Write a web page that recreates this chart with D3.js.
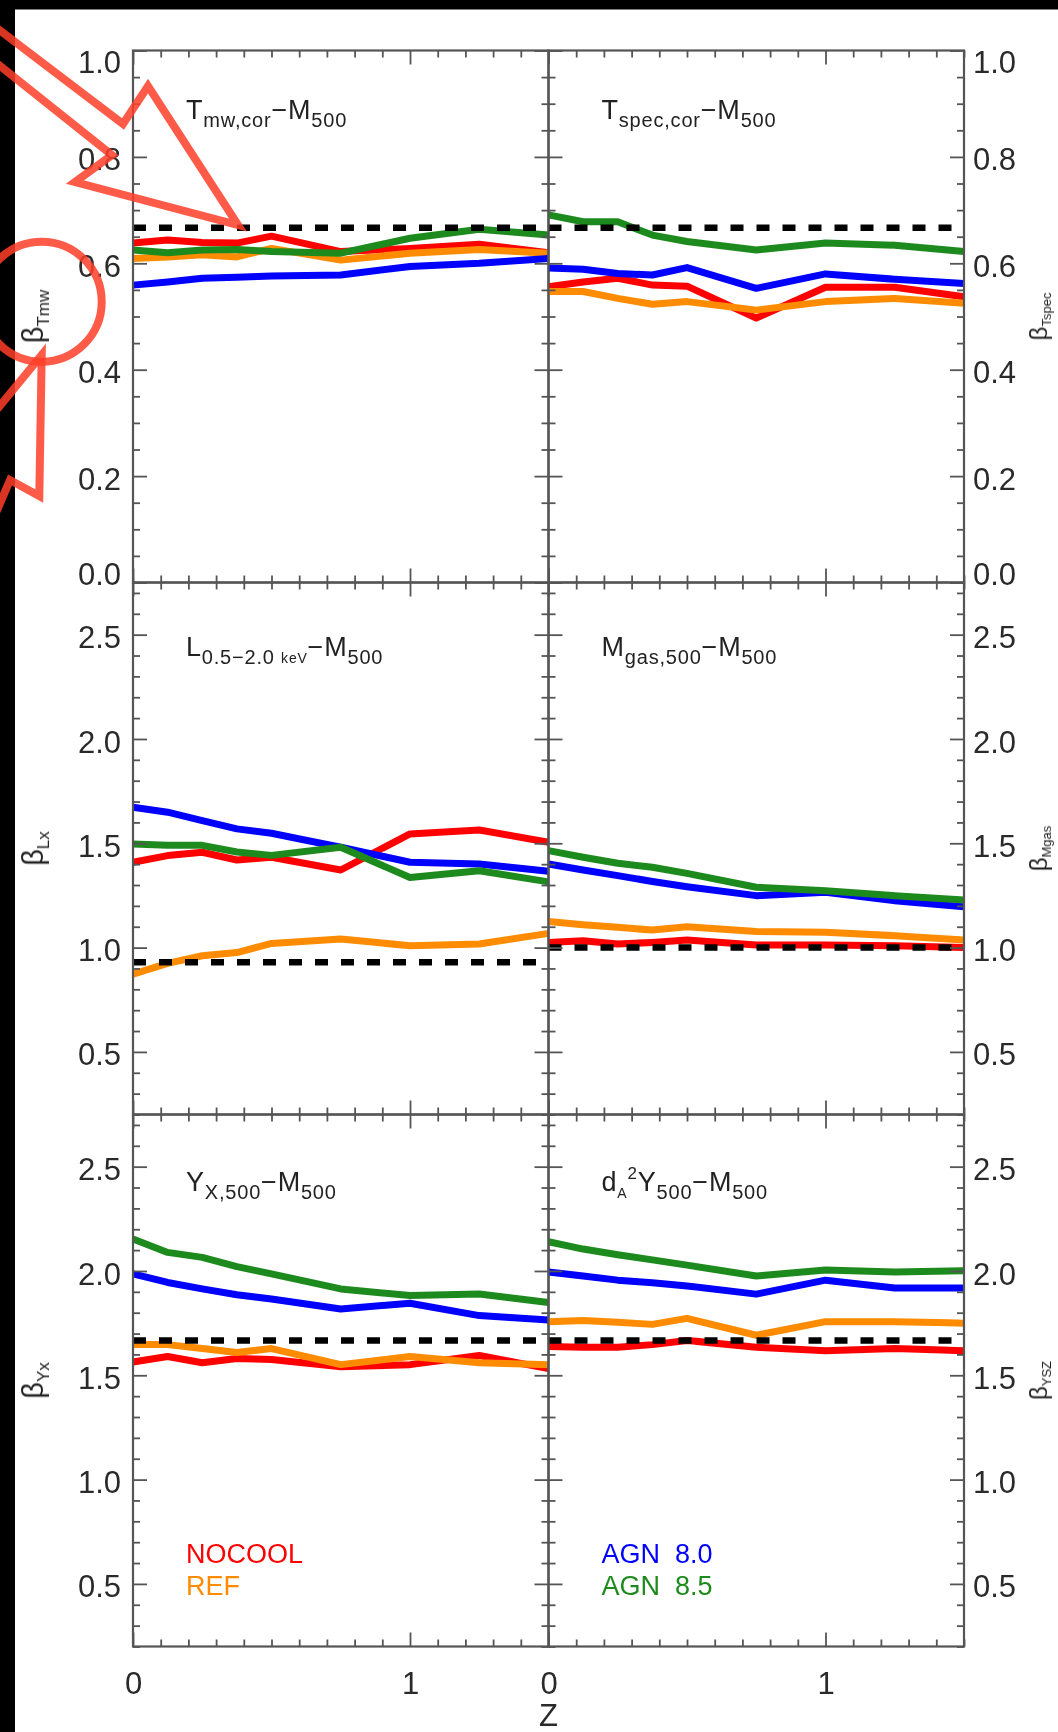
<!DOCTYPE html>
<html><head><meta charset="utf-8">
<script src="https://cdn.jsdelivr.net/npm/d3@7"></script>
<style>
html,body{margin:0;padding:0;background:#fff;}
svg{display:block;}
text{font-family:"Liberation Sans",Arial,Helvetica,sans-serif;}
</style></head><body>
<svg id="chart" width="1058" height="1732"></svg>
<script>
// ---------------- DATA ----------------
const redshift = [0, 0.125, 0.25, 0.375, 0.5, 0.75, 1.0, 1.25, 1.5];
const modelNames = ["NOCOOL", "REF", "AGN  8.0", "AGN  8.5"];
const modelColors = ["#ff0000", "#ff8c00", "#0000ff", "#1f8a1f"];

// T_mw,cor - M500
const tmwNocool = [0.638, 0.644, 0.639, 0.638, 0.651, 0.622, 0.628, 0.636, 0.620];
const tmwRef    = [0.609, 0.612, 0.616, 0.612, 0.628, 0.606, 0.619, 0.626, 0.619];
const tmwAgn80  = [0.559, 0.565, 0.572, 0.574, 0.576, 0.578, 0.594, 0.600, 0.609];
const tmwAgn85  = [0.625, 0.620, 0.625, 0.626, 0.622, 0.619, 0.647, 0.664, 0.653];
// T_spec,cor - M500
const tspNocool = [0.556, 0.565, 0.572, 0.559, 0.557, 0.497, 0.555, 0.555, 0.537];
const tspRef    = [0.547, 0.547, 0.534, 0.523, 0.528, 0.512, 0.528, 0.534, 0.525];
const tspAgn80  = [0.591, 0.589, 0.581, 0.578, 0.592, 0.553, 0.580, 0.570, 0.562];
const tspAgn85  = [0.691, 0.678, 0.678, 0.653, 0.641, 0.625, 0.638, 0.634, 0.622];
// L_0.5-2.0keV - M500
const lxNocool  = [1.409, 1.441, 1.457, 1.420, 1.433, 1.372, 1.545, 1.564, 1.505];
const lxRef     = [0.873, 0.924, 0.961, 0.976, 1.020, 1.041, 1.009, 1.017, 1.068];
const lxAgn80   = [1.673, 1.649, 1.609, 1.569, 1.548, 1.481, 1.409, 1.401, 1.366];
const lxAgn85   = [1.496, 1.490, 1.490, 1.458, 1.442, 1.481, 1.336, 1.368, 1.315];
// M_gas,500 - M500
const mgNocool  = [1.025, 1.033, 1.017, 1.025, 1.036, 1.013, 1.013, 1.009, 1.000];
const mgRef     = [1.125, 1.110, 1.097, 1.084, 1.100, 1.077, 1.073, 1.057, 1.036];
const mgAgn80   = [1.401, 1.372, 1.345, 1.317, 1.292, 1.249, 1.265, 1.225, 1.196];
const mgAgn85   = [1.465, 1.433, 1.404, 1.385, 1.356, 1.289, 1.273, 1.249, 1.228];
// Y_X,500 - M500
const yxNocool  = [1.564, 1.590, 1.560, 1.580, 1.576, 1.541, 1.551, 1.595, 1.532];
const yxRef     = [1.647, 1.647, 1.628, 1.609, 1.628, 1.551, 1.590, 1.560, 1.551];
const yxAgn80   = [1.986, 1.945, 1.914, 1.886, 1.866, 1.818, 1.845, 1.786, 1.765];
const yxAgn85   = [2.153, 2.089, 2.065, 2.021, 1.986, 1.914, 1.882, 1.890, 1.849];
// d_A^2 Y_500 - M500
const ysNocool  = [1.638, 1.634, 1.634, 1.647, 1.667, 1.634, 1.618, 1.628, 1.618];
const ysRef     = [1.757, 1.763, 1.754, 1.744, 1.773, 1.692, 1.757, 1.757, 1.750];
const ysAgn80   = [1.995, 1.976, 1.956, 1.943, 1.928, 1.889, 1.956, 1.918, 1.918];
const ysAgn85   = [2.140, 2.105, 2.078, 2.053, 2.028, 1.976, 2.005, 1.995, 2.001];

// self-similar expectations (dashed lines)
const selfSimilar = [0.667, 0.667, 0.93, 1.0, 1.667, 1.667];

// tick labels
const xTickValues = [0, 1];
const yTicksTemp = [0.0, 0.2, 0.4, 0.6, 0.8, 1.0];
const yTicksOther = [0.5, 1.0, 1.5, 2.0, 2.5];
const yDomainTemp = [0, 1];
const yDomainOther = [0.2, 2.75];
const xDomain = [0, 1.5];

const leftLabels = ["β|Tmw", "β|Lx", "β|Yx"];
const rightLabels = ["β|Tspec", "β|Mgas", "β|YSZ"];

// title segments: [text, mode] mode: n=normal, s=sub, k=small sub, p=sup
const titles = [
  [["T","n"],["mw,cor","s"],["−M","n"],["500","s"]],
  [["T","n"],["spec,cor","s"],["−M","n"],["500","s"]],
  [["L","n"],["0.5−2.0 ","s"],["keV","k"],["−M","n"],["500","s"]],
  [["M","n"],["gas,500","s"],["−M","n"],["500","s"]],
  [["Y","n"],["X,500","s"],["−M","n"],["500","s"]],
  [["d","n"],["A","k"],["2","p"],["Y","n"],["500","s"],["−M","n"],["500","s"]]
];

const panelSeries = [
  [tmwNocool, tmwRef, tmwAgn80, tmwAgn85],
  [tspNocool, tspRef, tspAgn80, tspAgn85],
  [lxNocool, lxRef, lxAgn80, lxAgn85],
  [mgNocool, mgRef, mgAgn80, mgAgn85],
  [yxNocool, yxRef, yxAgn80, yxAgn85],
  [ysNocool, ysRef, ysAgn80, ysAgn85]
];

// ---------------- LAYOUT ----------------
const W = 1058, H = 1732;
const plotLeft = 133, colW = 415.5, plotTop = 50.5, rowH = 532;
const titleOffset = [68, 73, 76];
const axisColor = "#555";
const textColor = "#2b2b2b";

const svg = d3.select("#chart");
const defs = svg.append("defs");
defs.append("filter").attr("id", "soft").attr("x", "-5%").attr("y", "-5%").attr("width", "110%").attr("height", "110%")
  .append("feGaussianBlur").attr("stdDeviation", 0.55);

svg.append("rect").attr("width", W).attr("height", H).attr("fill", "#fff");

// black scan borders
svg.append("rect").attr("x", 0).attr("y", 0).attr("width", W).attr("height", 9.5).attr("fill", "#000");
svg.append("rect").attr("x", 0).attr("y", 0).attr("width", 15).attr("height", H).attr("fill", "#000");

const root = svg.append("g").attr("filter", "url(#soft)");
const drawOrder = [0, 1, 2, 3];

function styleAxis(g) {
  g.select(".domain").remove();
  g.selectAll(".tick line").attr("stroke", axisColor).attr("stroke-width", 1.8);
  g.selectAll("text").attr("font-size", 31).attr("fill", textColor)
    .attr("font-family", '"Liberation Sans",Arial,sans-serif');
}

for (let p = 0; p < 6; p++) {
  const row = Math.floor(p / 2), col = p % 2;
  const left = plotLeft + col * colW, top = plotTop + row * rowH;
  const x = d3.scaleLinear().domain(xDomain).range([left, left + colW]);
  const yDom = row === 0 ? yDomainTemp : yDomainOther;
  const y = d3.scaleLinear().domain(yDom).range([top + rowH, top]);
  const majors = row === 0 ? yTicksTemp : yTicksOther;
  const minorStep = row === 0 ? 0.05 : 0.1;
  const yMinors = d3.range(Math.ceil(yDom[0] / minorStep - 1e-6), Math.floor(yDom[1] / minorStep + 1e-6) + 1)
    .map(k => +(k * minorStep).toFixed(3))
    .filter(v => !majors.some(m => Math.abs(m - v) < 1e-6));
  const xMinors = d3.range(0, 16).map(k => +(k * 0.1).toFixed(2)).filter(v => !xTickValues.includes(v));

  const g = root.append("g");

  // data lines
  const line = d3.line().x((d, i) => x(redshift[i])).y(d => y(d));
  drawOrder.forEach(si => {
    g.append("path").datum(panelSeries[p][si])
      .attr("d", line).attr("fill", "none")
      .attr("stroke", modelColors[si]).attr("stroke-width", 7)
      .attr("stroke-linejoin", "round");
  });
  // self-similar dashed line
  g.append("path").datum(xDomain)
    .attr("d", d3.line().x(d => x(d)).y(() => y(selfSimilar[p])))
    .attr("stroke", "#000").attr("stroke-width", 6.5)
    .attr("stroke-dasharray", "13,13").attr("fill", "none");

  // frame
  g.append("rect").attr("x", left).attr("y", top).attr("width", colW).attr("height", rowH)
    .attr("fill", "none").attr("stroke", axisColor).attr("stroke-width", 2.2);

  const fmtY = d3.format(".1f");
  // left axis
  const gl = g.append("g").attr("transform", `translate(${left},0)`)
    .call(d3.axisLeft(y).tickValues(majors).tickSizeInner(-14).tickSizeOuter(0).tickPadding(12)
      .tickFormat(col === 0 ? fmtY : () => ""));
  styleAxis(gl);
  g.append("g").attr("transform", `translate(${left},0)`)
    .call(d3.axisLeft(y).tickValues(yMinors).tickSizeInner(-7).tickSizeOuter(0).tickFormat(() => ""))
    .call(styleAxis);
  // right axis
  const gr = g.append("g").attr("transform", `translate(${left + colW},0)`)
    .call(d3.axisRight(y).tickValues(majors).tickSizeInner(-14).tickSizeOuter(0).tickPadding(9)
      .tickFormat(col === 1 ? fmtY : () => ""));
  styleAxis(gr);
  g.append("g").attr("transform", `translate(${left + colW},0)`)
    .call(d3.axisRight(y).tickValues(yMinors).tickSizeInner(-7).tickSizeOuter(0).tickFormat(() => ""))
    .call(styleAxis);
  // shift edge labels inward like the original
  [gl, gr].forEach(ga => ga.selectAll(".tick text").attr("dy", d => {
    if (row === 0 && d === 1.0) return "0.72em";
    if (row === 0 && d === 0.0) return "0.05em";
    return "0.42em";
  }));

  // top axis
  g.append("g").attr("transform", `translate(0,${top})`)
    .call(d3.axisTop(x).tickValues(xTickValues).tickSizeInner(-14).tickSizeOuter(0).tickFormat(() => ""))
    .call(styleAxis);
  g.append("g").attr("transform", `translate(0,${top})`)
    .call(d3.axisTop(x).tickValues(xMinors).tickSizeInner(-7).tickSizeOuter(0).tickFormat(() => ""))
    .call(styleAxis);
  // bottom axis
  const gb = g.append("g").attr("transform", `translate(0,${top + rowH})`)
    .call(d3.axisBottom(x).tickValues(xTickValues).tickSizeInner(-14).tickSizeOuter(0).tickPadding(25)
      .tickFormat(row === 2 ? d3.format("d") : () => ""));
  styleAxis(gb);
  g.append("g").attr("transform", `translate(0,${top + rowH})`)
    .call(d3.axisBottom(x).tickValues(xMinors).tickSizeInner(-7).tickSizeOuter(0).tickFormat(() => ""))
    .call(styleAxis);

  // panel title
  const tt = g.append("text").attr("x", left + 53).attr("y", top + titleOffset[row])
    .attr("fill", "#222").attr("font-size", 27).attr("letter-spacing", 0.8);
  let shift = 0;
  titles[p].forEach(([txt, mode]) => {
    let target = 0, fs = 27;
    if (mode === "s") { target = 8; fs = 20; }
    else if (mode === "k") { target = 7; fs = 14; }
    else if (mode === "p") { target = -12; fs = 17; }
    tt.append("tspan").attr("dy", target - shift).attr("font-size", fs).text(txt);
    shift = target;
  });

  // y labels (rotated)
  const midY = top + rowH / 2;
  const lab = col === 0 ? leftLabels[row] : rightLabels[row];
  const lx = col === 0 ? 43 : 1047;
  const [main, sub] = lab.split("|");
  const yl = g.append("text")
    .attr("transform", `translate(${lx},${midY}) rotate(-90)`)
    .attr("text-anchor", "middle").attr("fill", "#222").attr("font-size", col === 0 ? 29 : 24);
  yl.append("tspan").text(main);
  yl.append("tspan").attr("dy", col === 0 ? 6 : 4).attr("font-size", col === 0 ? 17 : 13).text(sub);

  // legend in bottom row
  if (row === 2) {
    const names = col === 0 ? [0, 1] : [2, 3];
    names.forEach((si, k) => {
      g.append("text").attr("x", left + 53).attr("y", top + 448.5 + k * 32)
        .attr("font-size", 27).attr("fill", modelColors[si])
        .style("white-space", "pre").text(modelNames[si]);
    });
  }
}

// x axis label
root.append("text").attr("x", plotLeft + colW).attr("y", 1726).attr("text-anchor", "middle")
  .attr("font-size", 31).attr("fill", textColor).text("Z");

// red annotation overlay (arrows and circle)
const ann = svg.append("g").attr("fill", "none").attr("stroke", "rgb(255,62,40)")
  .attr("stroke-opacity", 0.85).attr("stroke-width", 8).attr("stroke-linejoin", "miter");
ann.append("path").attr("d", "M-10,23 L123,124 L148,86 L238,225 L75,182 L112,155 L-10,58");
ann.append("circle").attr("cx", 41.7).attr("cy", 301.7).attr("r", 60);
ann.append("path").attr("d", "M-10,418 L41.7,355 L39.3,496 L10,480 L-5,515");
</script>
</body></html>
